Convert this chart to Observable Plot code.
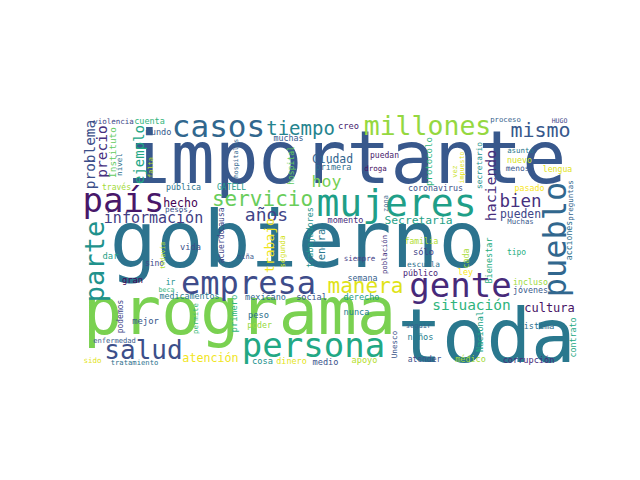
<!DOCTYPE html>
<html><head><meta charset="utf-8">
<script src="https://cdn.jsdelivr.net/npm/d3@7"></script>
<script src="https://cdn.jsdelivr.net/npm/@observablehq/plot@0.6"></script>
<style>body{margin:0;background:#fff}</style>
</head><body><div id="chart"></div>
<script>
// words of the cloud
const words = ["importante","gobierno","programa","toda","persona","empresa","mujeres","gente","casos","millones",
"servicio","salud","país","manera","mismo","tiempo","años","bien","hoy","información",
"situación","cultura","atención","Secretaría","Ciudad","hecho","pueden","violencia","cuenta","mundo",
"través","pública","GATELL","pesos","dar","sino","vida","gran","ir","beca",
"medicamentos","mejor","enfermedad","sido","tratamiento","creo","proceso","HUGO","muchas","primera",
"puedan","droga","momento","siempre","niña","semana","mexicano","social","derecho","peso",
"poder","nunca","cosa","dinero","medio","apoyo","atender","médico","corrupción","sistema",
"seguir","niños","incluso","jóvenes","tipo","familia","sólo","escuela","público","ley",
"asunto","nuevo","menos","lengua","coronavirus","pasado","Muchas",
"pueblo","parte","problema","precio","ejemplo","haciendo","trabajo","Instituto","nivel","falta",
"causa","acuerdo","todavía","podemos","permite","primero","hospitales","hospital","trabajadores","general",
"zona","población","segunda","Unesco","contrato","Nacional","Bienestar","cada","acciones","preguntas",
"protocolo","vez","impuesto","secretario"];
// relative weight of each word (rendered font size, px)
const weights = [73,78,65,74,34,32,38,34,31,26.5,
21,26,34,21,20,19,18,17.5,16.5,15,
14.5,12,11.7,11.3,11.4,11.5,11.4,7.5,8.5,8.6,
8,8.3,8,7.6,8.8,8,8.7,8.7,8,6.7,
8.3,8.9,7.1,7.5,7.2,8.7,7.3,6.5,8.3,8.5,
8,7.5,8.5,7.5,7,8.3,8.5,8.5,8.5,8.7,
8.2,8.6,8.7,8.5,8.6,8.6,8,8.5,8.6,8.5,
7,8.6,8.3,8.3,8,8,8.7,7.8,8.3,8.5,
7.4,8.3,7.9,8.2,8.3,8.3,7.3,
32,27,14.4,14.5,14,14.8,13,9.4,7.6,7,
8,8,6.5,8,7.3,9,6.5,8,8.4,10.5,
7,7.2,7.6,7.6,8.3,8.5,8.5,8.3,8.2,7.5,
9,7,6.6,7.8];
// colour tone of each word on the viridis ramp (0–1)
const tones = [0.27,0.38,0.80,0.40,0.60,0.23,0.56,0.12,0.33,0.84,
0.77,0.24,0.06,0.95,0.27,0.45,0.20,0.14,0.79,0.18,
0.65,0.05,0.98,0.57,0.32,0.0,0.21,0.21,0.65,0.28,
0.86,0.38,0.55,0.26,0.57,0.22,0.24,0.0,0.5,0.65,
0.40,0.27,0.28,0.95,0.37,0.08,0.30,0.21,0.28,0.36,
0.07,0.04,0.12,0.18,0.27,0.30,0.33,0.26,0.55,0.36,
0.84,0.43,0.50,0.96,0.26,0.89,0.24,0.86,0.12,0.37,
0.32,0.42,0.85,0.27,0.63,0.88,0.20,0.37,0.10,0.99,
0.40,0.93,0.27,0.95,0.24,0.99,0.27,
0.33,0.51,0.24,0.14,0.59,0.13,0.98,0.76,0.36,0.90,
0.22,0.20,0.88,0.20,0.67,0.66,0.32,0.76,0.50,0.40,
0.30,0.15,0.93,0.26,0.60,0.58,0.62,0.87,0.37,0.32,
0.65,0.92,0.96,0.50];
// cloud layout (position of each word in the 640x480 frame)
const layoutX = [346,297,239,486,313,248,396,460,218,427,
262,143,123,365,540,300,266,520,326,153,
471,549,210,418,332,180,520,113,149,158,
116,183,231,176,110,154,190,132,170,166,
189,145,114,92,134,348,505,559,288,333,
384,375,345,359,245,362,265,311,361,258,
259,356,262,291,325,364,424,470,528,536,
418,420,530,530,516,421,423,423,420,465,
520,519,517,557,435,529,520,
555,95,90,102,139,491,269,112,119,150,
221,221,162,120,195,234,235,291,310,321,
385,384,282,394,573,480,489,466,569,570,
429,454,461,479];
const layoutY = [159,242,313,338,346,283,203,286,127,126,
199,350,201,286,130,128,215,201,181,218,
305,308,358,220,159,203,214,121,121,132,
187,187,187,209,256,263,247,280,282,289,
296,321,340,360,362,126,119,120,138,167,
155,168,220,258,256,278,297,297,297,315,
325,312,361,361,362,360,359,359,360,326,
325,337,282,290,252,241,252,264,273,272,
150,160,168,169,188,188,221,
239,261,154,151,154,185,245,152,164,167,
219,246,255,316,318,313,158,165,237,244,
203,254,251,344,337,331,260,258,240,200,
161,171,167,165];
// 1 = word set vertically (reads bottom to top)
const vertical = words.map((w, i) => i >= 87 ? 1 : 0);

const data = words.map((w, i) => ({
  word: w, size: weights[i], tone: tones[i],
  x: layoutX[i], y: layoutY[i], rot: vertical[i] ? -90 : 0
}));

const chart = Plot.plot({
  width: 640, height: 480, margin: 0,
  style: {background: "#ffffff"},
  x: {domain: [0, 640], range: [0, 640], axis: null},
  y: {domain: [0, 480], range: [0, 480], axis: null},
  color: {type: "linear", scheme: "viridis", domain: [0, 1]},
  marks: [
    Plot.text(data, {
      x: "x", y: "y", text: "word", fill: "tone",
      fontSize: d => d.size, rotate: d => d.rot,
      fontFamily: "DejaVu Sans Mono",
      textAnchor: "middle", lineAnchor: "middle"
    })
  ]
});
document.getElementById("chart").append(chart);
</script></body></html>
